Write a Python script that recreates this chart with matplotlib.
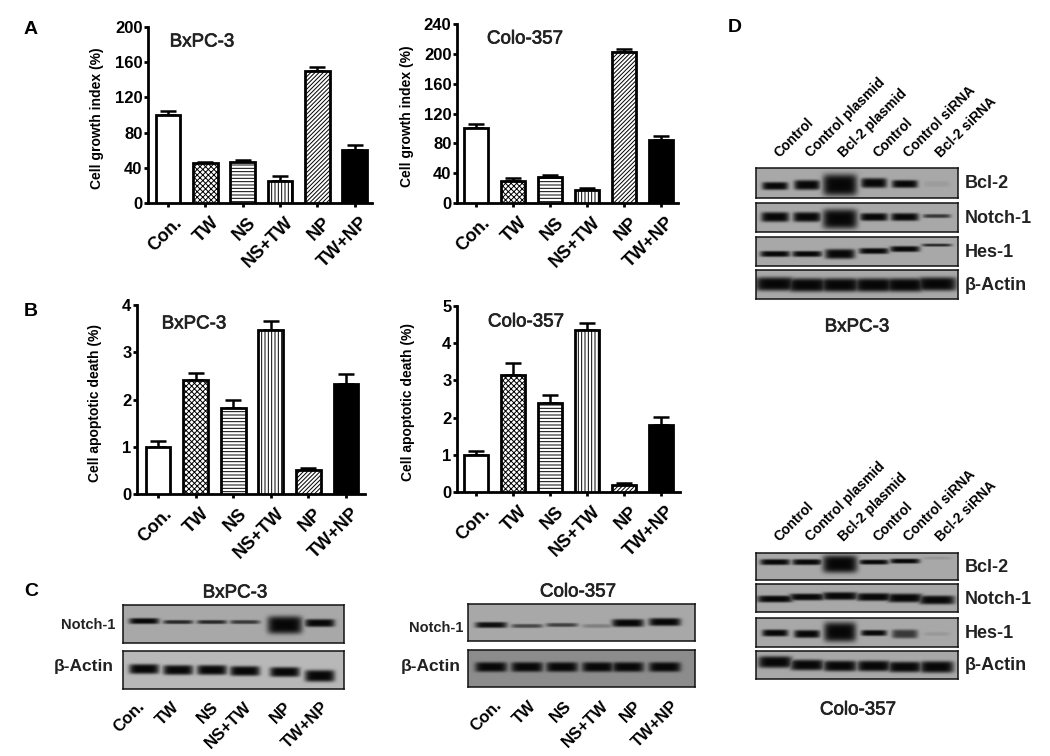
import numpy as np
import matplotlib
matplotlib.use('Agg')
import matplotlib.pyplot as plt
import matplotlib.patheffects as pe
from matplotlib.transforms import ScaledTranslation

plt.rcParams['font.family'] = ['Liberation Sans', 'DejaVu Sans']
plt.rcParams['font.weight'] = 'bold'
plt.rcParams['hatch.linewidth'] = 0.7

W, H = 1050, 756

groups = ['Con.', 'TW', 'NS', 'NS+TW', 'NP', 'TW+NP']
d_lanes = ['Control', 'Control plasmid', 'Bcl-2 plasmid', 'Control', 'Control siRNA', 'Bcl-2 siRNA']

# bar values
growth_bx = [100, 45, 47, 25, 150, 60]
growth_bx_err = [5, 2, 2, 6, 5, 6]
growth_colo = [100, 30, 35, 18, 202, 85]
growth_colo_err = [6, 3, 2, 2, 5, 5]
apop_bx = [1.0, 2.42, 1.82, 3.47, 0.5, 2.33]
apop_bx_err = [0.12, 0.15, 0.17, 0.2, 0.05, 0.2]
apop_colo = [1.0, 3.15, 2.4, 4.35, 0.2, 1.8]
apop_colo_err = [0.1, 0.33, 0.22, 0.2, 0.05, 0.22]

# blot band darkness per lane (0-1), band half height and band height in the picture (px)
c_bx_notch = [1.0, 0.8, 0.8, 0.7, 1.0, 1.0]
c_bx_notch_h = [3, 2, 2, 2, 9, 4]
c_bx_notch_y = [621, 622, 622, 622, 625, 623]
c_bx_actin = [1.0, 1.0, 1.0, 1.0, 1.0, 1.0]
c_bx_actin_h = [5, 5, 5, 5, 5, 6]
c_bx_actin_y = [669, 670, 670, 671, 672, 676]
c_colo_notch = [0.95, 0.6, 0.65, 0.25, 1.0, 1.0]
c_colo_notch_h = [3, 2, 2, 2, 4, 4]
c_colo_notch_y = [625, 626, 625, 626, 623, 622]
c_colo_actin = [1.0, 1.0, 1.0, 1.0, 1.0, 1.0]
c_colo_actin_h = [5, 5, 5, 5, 5, 5]
c_colo_actin_y = [667, 667, 667, 667, 667, 667]
d_bx_bcl = [1.0, 1.0, 1.0, 1.0, 1.0, 0.08]
d_bx_bcl_h = [4, 5, 11, 5, 4, 3]
d_bx_bcl_y = [186, 185, 185, 183, 184, 184]
d_bx_notch = [1.0, 1.0, 1.0, 1.0, 1.0, 0.7]
d_bx_notch_h = [5, 5, 10, 4, 4, 2]
d_bx_notch_y = [217, 217, 219, 217, 217, 216]
d_bx_hes = [1.0, 1.0, 1.0, 1.0, 1.0, 0.8]
d_bx_hes_h = [3, 3, 5, 3, 3, 1.5]
d_bx_hes_y = [254, 254, 254, 251, 249, 245]
d_bx_actin = [1.0, 1.0, 1.0, 1.0, 1.0, 1.0]
d_bx_actin_h = [7, 7, 7, 7, 7, 7]
d_bx_actin_y = [284, 285, 285, 285, 285, 284]
d_colo_bcl = [1.0, 1.0, 1.0, 1.0, 1.0, 0.12]
d_colo_bcl_h = [3, 3, 9, 2.5, 2.5, 1.5]
d_colo_bcl_y = [562, 562, 564, 562, 561, 558]
d_colo_notch = [1.0, 1.0, 1.0, 1.0, 1.0, 1.0]
d_colo_notch_h = [3.5, 3.5, 4, 4, 4.5, 4.5]
d_colo_notch_y = [599, 597, 596, 597, 598, 600]
d_colo_hes = [1.0, 1.0, 1.0, 1.0, 0.7, 0.1]
d_colo_hes_h = [3.5, 4, 10, 3, 4.5, 2]
d_colo_hes_y = [633, 634, 632, 633, 634, 634]
d_colo_actin = [1.0, 1.0, 1.0, 1.0, 1.0, 1.0]
d_colo_actin_h = [6, 5.5, 5.5, 5.5, 5.5, 6]
d_colo_actin_y = [662, 665, 666, 666, 667, 667]

styles = [
    dict(facecolor='white'),
    dict(facecolor='white', hatch='xxxxxx'),
    dict(facecolor='white', hatch='-----'),
    dict(facecolor='white', hatch='|||||'),
    dict(facecolor='white', hatch='////////'),
    dict(facecolor='black'),
]

fig = plt.figure(figsize=(W / 100, H / 100), dpi=100, facecolor='white')
medium = [pe.withStroke(linewidth=0.5, foreground='#222222')]


def px_axes(x0, y0, x1, y1):
    return fig.add_axes([x0 / W, 1 - y1 / H, (x1 - x0) / W, (y1 - y0) / H])


def label(x, y, s, size=11, ha='center', **kw):
    return fig.text(x / W, 1 - y / H, s, fontsize=size, ha=ha, va='center', **kw)


def title(x, y, s):
    label(x, y, s, size=13.5, fontweight='normal', color='#222222', path_effects=medium)


def bars(box, first, step, vals, errs, top, ticks, ylab, name, title_xy, ylab_x):
    ax = px_axes(*box)
    x = np.arange(6)
    ax.set_xlim((box[0] - first) / step, (box[2] - first) / step)
    ax.set_ylim(0, top)
    for i in x:
        ax.bar(i, vals[i], width=0.66, edgecolor='black', linewidth=2, zorder=3, **styles[i])
    ax.errorbar(x, vals, yerr=[np.zeros(6), errs], fmt='none', ecolor='black',
                elinewidth=1.8, capsize=6, capthick=1.8, zorder=2)
    ax.spines[['top', 'right']].set_visible(False)
    ax.spines[['left', 'bottom']].set_linewidth(2)
    ax.set_yticks(ticks)
    ax.set_xticks(x)
    ax.set_xticklabels(groups, rotation=45, ha='right', rotation_mode='anchor', fontsize=13)
    ax.tick_params(axis='x', width=2, length=3, pad=5)
    ax.tick_params(axis='y', width=2, length=3, pad=1, labelsize=12)
    shift = ScaledTranslation(5 / 100, 0, fig.dpi_scale_trans)
    for t in ax.get_xticklabels():
        t.set_transform(t.get_transform() + shift)
    for t in ax.get_yticklabels() + ax.get_xticklabels():
        t.set_fontweight('bold')
    ax.patch.set_alpha(0)
    label(ylab_x, (box[1] + box[3]) / 2 + 3, ylab, size=10, rotation=90)
    title(title_xy[0], title_xy[1], name)


def blot(box, lanes, amps, heights, ycs, width, bg=0.66):
    # band image: one soft block per lane
    x0, y0, x1, y1 = box
    xs = np.linspace(x0, x1, int((x1 - x0) * 2))
    ys = np.linspace(y0, y1, int((y1 - y0) * 2))
    xx, yy = np.meshgrid(xs, ys)
    dark = np.zeros_like(xx)
    for c, a, h, yc in zip(lanes, amps, heights, ycs):
        w = width * (1 + max(0, h - 7) * 0.08)
        g = a * np.exp(-((xx - c) / w) ** 6) * np.exp(-((yy - yc) / h) ** 4)
        dark = np.maximum(dark, g)
    img = bg * (1 - dark) + 0.03 * dark
    ax = px_axes(*box)
    ax.imshow(img, cmap='gray', vmin=0, vmax=1, aspect='auto', extent=[x0, x1, y1, y0],
              interpolation='bilinear')
    ax.set_xticks([])
    ax.set_yticks([])
    for s in ax.spines.values():
        s.set_linewidth(1.1)
        s.set_color('#111111')


bars((148, 27, 372, 203), 168, 37.3, growth_bx, growth_bx_err, 200, [0, 40, 80, 120, 160, 200],
     'Cell growth index (%)', 'BxPC-3', (202, 42), 97)
bars((457, 24, 678, 203), 476, 37, growth_colo, growth_colo_err, 240, [0, 40, 80, 120, 160, 200, 240],
     'Cell growth index (%)', 'Colo-357', (525, 39), 407)
bars((137, 305, 365, 494), 158, 37.6, apop_bx, apop_bx_err, 4, [0, 1, 2, 3, 4],
     'Cell apoptotic death (%)', 'BxPC-3', (194, 324), 95)
bars((457, 306, 680, 492), 476, 37, apop_colo, apop_colo_err, 5, [0, 1, 2, 3, 4, 5],
     'Cell apoptotic death (%)', 'Colo-357', (526, 322), 408)

# panel letters
for s, x, y in [('A', 31, 29), ('B', 31, 311), ('C', 31, 592), ('D', 735, 28)]:
    label(x, y, s, size=14)

# panel C
c_bx_x = [144, 178, 212, 245, 285, 320]
blot((123, 605, 344, 643), c_bx_x, c_bx_notch, c_bx_notch_h, c_bx_notch_y, 15)
blot((123, 651, 344, 689), c_bx_x, c_bx_actin, c_bx_actin_h, c_bx_actin_y, 15, bg=0.72)
title(235, 593, 'BxPC-3')
label(115, 625, 'Notch-1', size=10.5, ha='right', color='#222222')
label(114, 667, 'β-Actin', size=12.5, ha='right', color='#222222')

c_colo_x = [491, 527, 562, 598, 628, 665]
blot((468, 604, 695, 641), c_colo_x, c_colo_notch, c_colo_notch_h, c_colo_notch_y, 16)
blot((468, 650, 695, 687), c_colo_x, c_colo_actin, c_colo_actin_h, c_colo_actin_y, 16, bg=0.55)
title(578, 592, 'Colo-357')
label(463, 628, 'Notch-1', size=10.5, ha='right', color='#222222')
label(461, 667, 'β-Actin', size=12.5, ha='right', color='#222222')

# rotated labels under panel C blots, ends
c_bx_ends = [137, 172, 211, 244, 284, 321]
c_colo_ends = [494, 529, 564, 601, 634, 671]
for ends, ya in [(c_bx_ends, 699), (c_colo_ends, 698)]:
    for i, s in enumerate(groups):
        fig.text(ends[i] / W, 1 - ya / H, s, fontsize=12, rotation=45, ha='right', va='top',
                 rotation_mode='anchor')

# panel D
d_x = [775, 807, 840, 874, 905, 937]
d_rows_bx = [
    ((756, 168, 958, 198), d_bx_bcl, d_bx_bcl_h, d_bx_bcl_y, 13, 'Bcl-2'),
    ((756, 203, 958, 232), d_bx_notch, d_bx_notch_h, d_bx_notch_y, 14, 'Notch-1'),
    ((756, 237, 958, 266), d_bx_hes, d_bx_hes_h, d_bx_hes_y, 15, 'Hes-1'),
    ((756, 270, 958, 299), d_bx_actin, d_bx_actin_h, d_bx_actin_y, 20, 'β-Actin'),
]
d_rows_colo = [
    ((756, 553, 958, 580), d_colo_bcl, d_colo_bcl_h, d_colo_bcl_y, 15, 'Bcl-2'),
    ((756, 584, 958, 612), d_colo_notch, d_colo_notch_h, d_colo_notch_y, 18, 'Notch-1'),
    ((756, 618, 958, 647), d_colo_hes, d_colo_hes_h, d_colo_hes_y, 13, 'Hes-1'),
    ((756, 651, 958, 679), d_colo_actin, d_colo_actin_h, d_colo_actin_y, 17, 'β-Actin'),
]
for rows, ya in [(d_rows_bx, 160), (d_rows_colo, 544)]:
    for box, amps, hs, ycs, wid, name in rows:
        blot(box, d_x, amps, hs, ycs, wid)
        label(965, (box[1] + box[3]) / 2 + 1, name, size=13, ha='left', color='#222222')
    for i, s in enumerate(d_lanes):
        fig.text((d_x[i] + 6) / W, 1 - ya / H, s, fontsize=10, rotation=45, ha='left', va='bottom',
                 rotation_mode='anchor')
title(857, 327, 'BxPC-3')
title(858, 710, 'Colo-357')

fig.savefig('out.png', dpi=100)
